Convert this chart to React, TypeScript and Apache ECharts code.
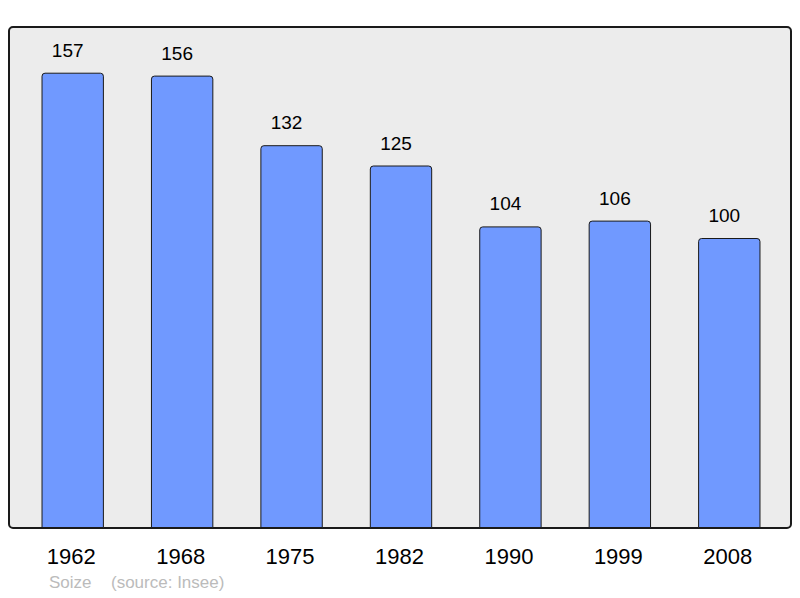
import React, { useEffect, useRef } from "react";
import * as echarts from "echarts";

const categories = ["1962", "1968", "1975", "1982", "1990", "1999", "2008"];
const population = [157, 156, 132, 125, 104, 106, 100];
const sourceName = "Soize";
const sourceNote = "(source: Insee)";

const FONT = "'Liberation Sans', Arial, sans-serif";

export default function App() {
  const ref = useRef<HTMLDivElement>(null);
  useEffect(() => {
    if (!ref.current) return;
    const chart = echarts.init(ref.current, undefined, { renderer: "svg" });
    chart.setOption({
      animation: false,
      backgroundColor: "#ffffff",
      graphic: [
        {
          type: "rect",
          z: -10,
          silent: true,
          shape: { x: 9, y: 27, width: 782, height: 501, r: 4 },
          style: { fill: "#ececec", stroke: "#1a1a1a", lineWidth: 2 },
        },
        {
          type: "text",
          left: 49,
          top: 574,
          style: { text: sourceName, fill: "#bbbbbb", font: `17px ${FONT}` },
        },
        {
          type: "text",
          left: 111,
          top: 574,
          style: { text: sourceNote, fill: "#bbbbbb", font: `17px ${FONT}` },
        },
      ],
      grid: { left: 18, top: 35, width: 766, height: 493, containLabel: false },
      xAxis: {
        type: "category",
        data: categories,
        axisLine: { show: false },
        axisTick: { show: false },
        axisLabel: {
          color: "#000",
          fontSize: 22,
          fontFamily: FONT,
          margin: 17,
          padding: [0, 3, 0, 0],
        },
      },
      yAxis: {
        type: "value",
        min: 0,
        max: 170,
        show: false,
        splitLine: { show: false },
      },
      series: [
        {
          type: "bar",
          data: population,
          barWidth: "57%",
          itemStyle: {
            color: "#7099ff",
            borderColor: "#1a1a1a",
            borderWidth: 1,
            borderRadius: [3, 3, 0, 0],
          },
          label: {
            show: true,
            position: "top",
            distance: 13,
            offset: [-5, 0],
            color: "#000",
            fontSize: 19,
            fontFamily: FONT,
          },
        },
      ],
    });
    return () => chart.dispose();
  }, []);
  return <div ref={ref} style={{ width: 800, height: 598, position: "absolute", left: 0, top: 0 }} />;
}
